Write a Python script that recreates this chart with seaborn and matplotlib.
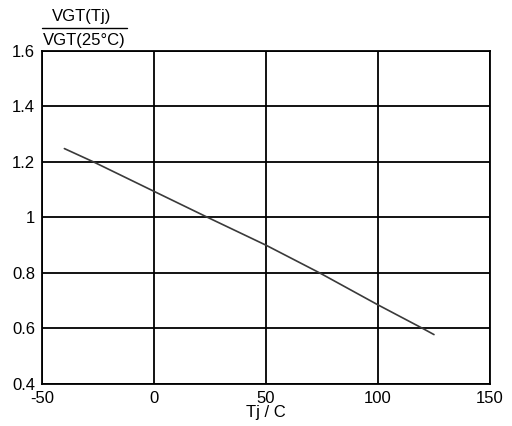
import pandas as pd
import seaborn as sns
import matplotlib.pyplot as plt
from matplotlib.lines import Line2D

# Curve
tj = [-40, -27, 0, 24, 50, 74, 100, 120, 125]
ratio = [1.248, 1.2, 1.094, 1.0, 0.9, 0.8, 0.685, 0.6, 0.578]
x_ticks = [-50, 0, 50, 100, 150]
y_ticks = [0.4, 0.6, 0.8, 1.0, 1.2, 1.4, 1.6]
y_tick_labels = ['0.4', '0.6', '0.8', '1', '1.2', '1.4', '1.6']

df = pd.DataFrame({'Tj': tj, 'ratio': ratio})

sns.set_style("white")
plt.rcParams['font.family'] = ['Liberation Sans', 'DejaVu Sans']
plt.rcParams['axes.unicode_minus'] = False
plt.rcParams['text.color'] = 'black'
plt.rcParams['axes.labelcolor'] = 'black'
plt.rcParams['xtick.color'] = 'black'
plt.rcParams['ytick.color'] = 'black'

fig = plt.figure(figsize=(5.12, 4.26), dpi=100)
ax = fig.add_axes([0.082, 0.0986, 0.875, 0.782])

sns.lineplot(data=df, x='Tj', y='ratio', ax=ax, color='#3a3a3a', linewidth=1.2)

ax.set_xlim(-50, 150)
ax.set_ylim(0.4, 1.6)
ax.set_xticks(x_ticks)
ax.set_yticks(y_ticks)
ax.set_yticklabels(y_tick_labels)
ax.grid(True, color='black', linewidth=1.3)
for s in ax.spines.values():
    s.set_color('black')
    s.set_linewidth(1.3)
ax.tick_params(length=0, labelsize=12)
ax.tick_params(axis='y', pad=5)
ax.tick_params(axis='x', pad=5)
ax.set_xlabel('Tj / C', fontsize=12, labelpad=-1)
ax.set_ylabel('')

# fraction-style y label at the top left
fig.text(82 / 512, 1 - 16 / 426, 'VGT(Tj)', fontsize=12, ha='center', va='center')
fig.text(84 / 512, 1 - 40 / 426, 'VGT(25°C)', fontsize=12, ha='center', va='center')
fig.add_artist(Line2D([42 / 512, 127 / 512], [1 - 28 / 426, 1 - 28 / 426],
                      transform=fig.transFigure, color='black', linewidth=1))

plt.savefig('out.png', dpi=100)
